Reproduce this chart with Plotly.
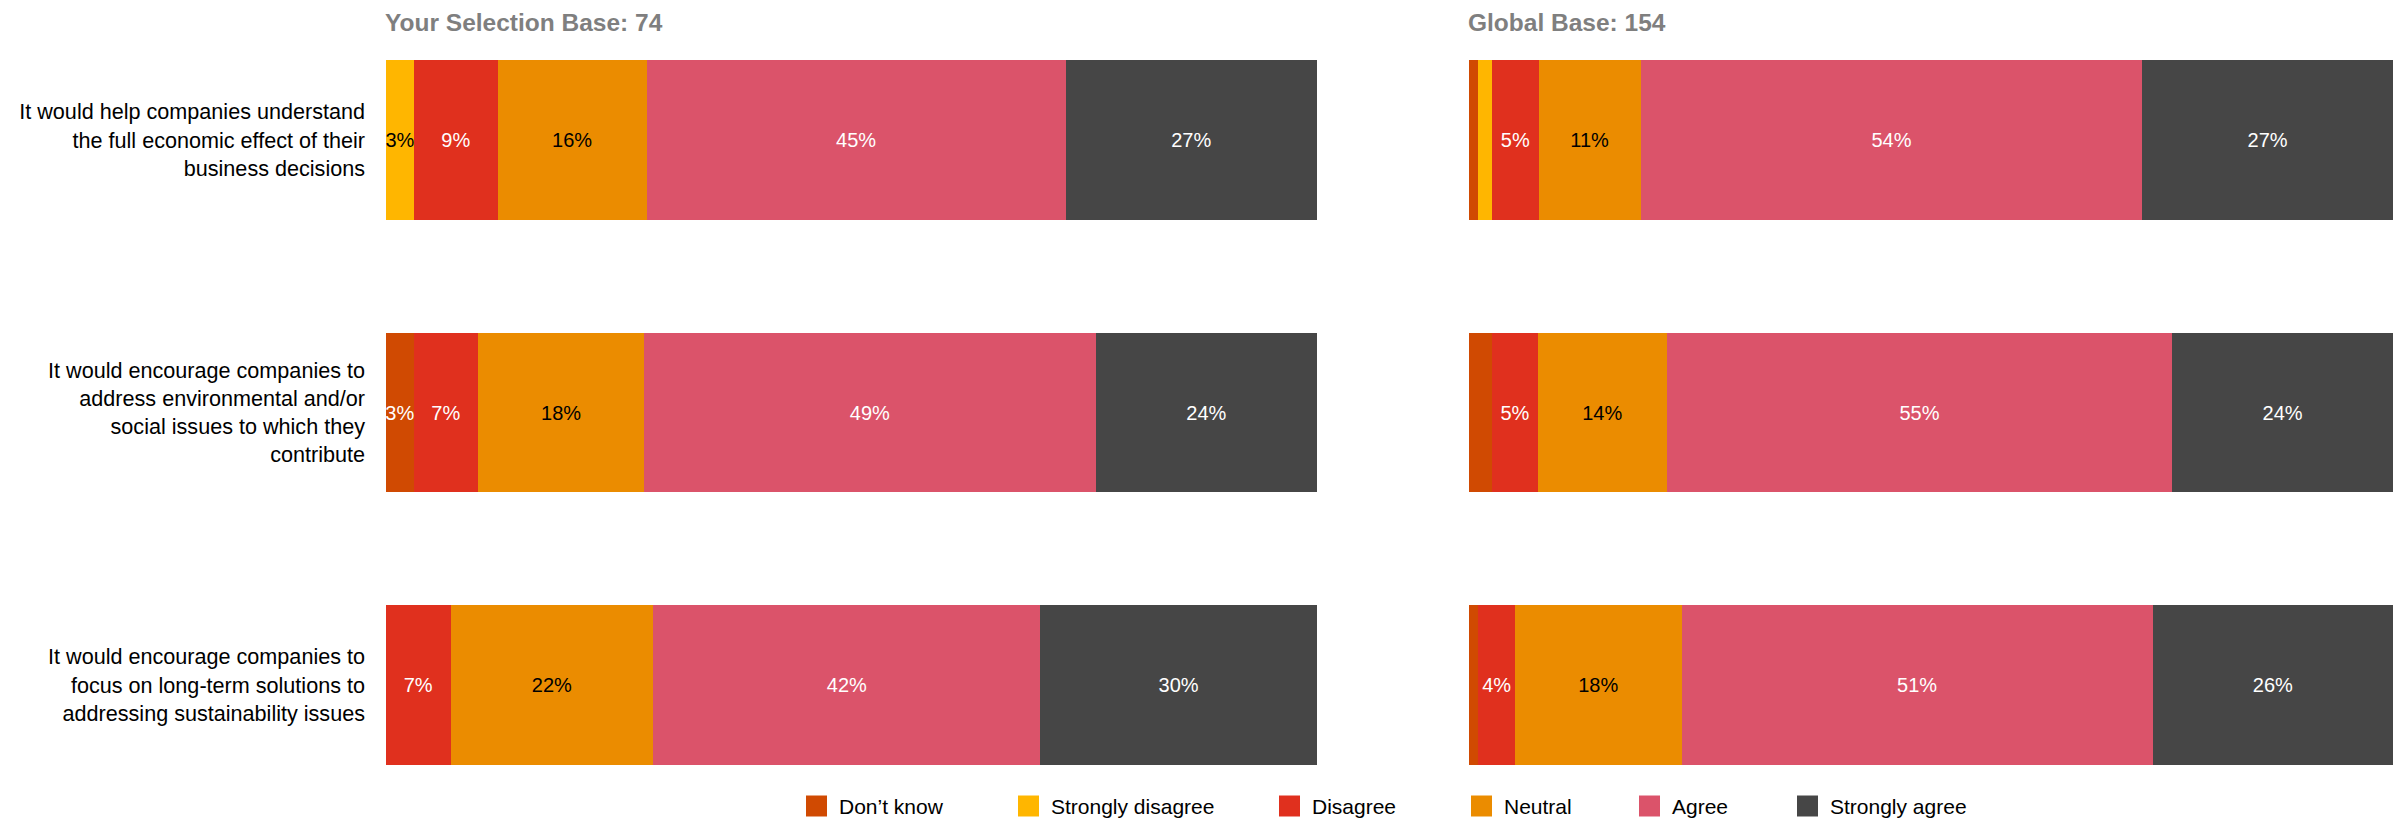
import plotly.graph_objects as go

# Survey statements (y categories)
statements = [
    "It would help companies understand<br>the full economic effect of their<br>business decisions",
    "It would encourage companies to<br>address environmental and/or<br>social issues to which they<br>contribute",
    "It would encourage companies to<br>focus on long-term solutions to<br>addressing sustainability issues",
]

responses = ["Don’t know", "Strongly disagree", "Disagree", "Neutral", "Agree", "Strongly agree"]
colors = ["#D04A02", "#FFB600", "#E0301E", "#EB8C00", "#DB536A", "#464646"]
label_colors = ["white", "black", "white", "black", "white", "white"]

# Percent of respondents per response, one list per response (rows follow statements)
selection_dont_know = [0, 3, 0]
selection_strongly_disagree = [3, 0, 0]
selection_disagree = [9, 7, 7]
selection_neutral = [16, 18, 22]
selection_agree = [45, 49, 42]
selection_strongly_agree = [27, 24, 30]

global_dont_know = [1, 2.5, 1]
global_strongly_disagree = [1.5, 0, 0]
global_disagree = [5, 5, 4]
global_neutral = [11, 14, 18]
global_agree = [54, 55, 51]
global_strongly_agree = [27, 24, 26]

panel_titles = ["Your Selection Base: 74", "Global Base: 154"]

selection = [selection_dont_know, selection_strongly_disagree, selection_disagree,
             selection_neutral, selection_agree, selection_strongly_agree]
global_base = [global_dont_know, global_strongly_disagree, global_disagree,
               global_neutral, global_agree, global_strongly_agree]

W, H = 2407, 819
FONT = "Arial, Liberation Sans, sans-serif"
rows = list(range(len(statements)))

fig = go.Figure()

for panel, (data, xa, ya) in enumerate([(selection, "x", "y"), (global_base, "x2", "y2")]):
    for name, vals, col, tcol in zip(responses, data, colors, label_colors):
        fig.add_trace(go.Bar(
            x=vals, y=rows, orientation="h", name=name,
            marker=dict(color=col, line=dict(width=0)),
            width=0.587,
            text=[f"{v:g}%" if v >= 3 else "" for v in vals],
            textposition="inside", insidetextanchor="middle", textangle=0,
            textfont=dict(family=FONT, size=20, color=tcol),
            xaxis=xa, yaxis=ya, showlegend=False,
            hovertemplate=name + ": %{text}<extra></extra>",
        ))

yrange = [2.4917, -0.5138]
fig.update_layout(
    width=W, height=H,
    margin=dict(l=0, r=0, t=0, b=0),
    paper_bgcolor="white", plot_bgcolor="white",
    barmode="stack", barnorm="percent",
    uniformtext=dict(minsize=20, mode="show"),
    font=dict(family=FONT, size=21, color="black"),
    xaxis=dict(domain=[386 / W, 1317 / W], range=[0, 100], visible=False, fixedrange=True),
    xaxis2=dict(domain=[1469 / W, 2393 / W], range=[0, 100], visible=False, fixedrange=True),
    yaxis=dict(domain=[0, 1], range=yrange, tickvals=rows, ticktext=statements,
               showgrid=False, zeroline=False, showline=False, ticks="",
               ticklabelstandoff=20, automargin=False,
               tickfont=dict(family=FONT, size=21.6, color="black"), anchor="x"),
    yaxis2=dict(domain=[0, 1], range=yrange, showticklabels=False, showgrid=False,
                zeroline=False, showline=False, ticks="", anchor="x2"),
)

# Panel headers
for title, x0 in zip(panel_titles, [383, 1466]):
    fig.add_annotation(text=f"<b>{title}</b>", xref="paper", yref="paper",
                       x=x0 / W, y=1 - 22 / H, xanchor="left", yanchor="middle",
                       showarrow=False, font=dict(family=FONT, size=24.5, color="#7F7F7F"))

# Legend row beneath the panels
legend_x = [806, 1018, 1279, 1471, 1639, 1797]
legend_yc = 806
sq = 21
for name, col, lx in zip(responses, colors, legend_x):
    fig.add_shape(type="rect", xref="paper", yref="paper",
                  x0=lx / W, x1=(lx + sq) / W,
                  y0=1 - (legend_yc + sq / 2) / H, y1=1 - (legend_yc - sq / 2) / H,
                  fillcolor=col, line=dict(width=0))
    fig.add_annotation(text=name, xref="paper", yref="paper",
                       x=(lx + 31) / W, y=1 - legend_yc / H, xanchor="left", yanchor="middle",
                       showarrow=False, font=dict(family=FONT, size=21, color="black"))

fig.write_html("out.html")
